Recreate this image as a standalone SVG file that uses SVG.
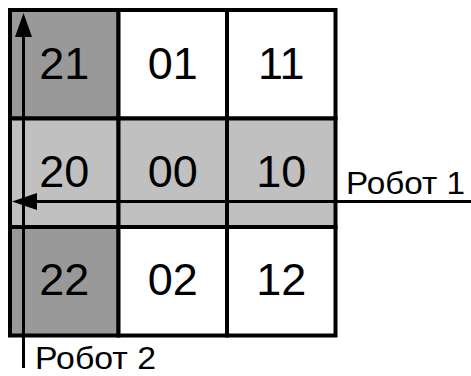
<svg xmlns="http://www.w3.org/2000/svg" width="471" height="376" viewBox="0 0 471 376">
<style>
.cell{stroke:#000;stroke-width:4}
.w{fill:#fff}
.d{fill:#999999}
.l{fill:#c0c0c0}
.num{font-family:"Liberation Sans",Arial,sans-serif;font-size:45px;text-anchor:middle;fill:#000}
.lbl{font-family:"Liberation Sans",Arial,sans-serif;font-size:31px;fill:#000}
.ln{stroke:#000;stroke-width:3;fill:none}
</style>
<rect width="471" height="376" fill="#fff"/>
<g id="cell21"><rect class="cell d" x="10" y="10" width="108.5" height="108.5"/><text class="num" x="64.25" y="79">21</text></g>
<g id="cell01"><rect class="cell w" x="118.5" y="10" width="108.5" height="108.5"/><text class="num" x="172.75" y="79">01</text></g>
<g id="cell11"><rect class="cell w" x="227" y="10" width="108.5" height="108.5"/><text class="num" x="281.25" y="79">11</text></g>
<g id="cell20"><rect class="cell l" x="10" y="118.5" width="108.5" height="108.5"/><text class="num" x="64.25" y="187">20</text></g>
<g id="cell00"><rect class="cell l" x="118.5" y="118.5" width="108.5" height="108.5"/><text class="num" x="172.75" y="187">00</text></g>
<g id="cell10"><rect class="cell l" x="227" y="118.5" width="108.5" height="108.5"/><text class="num" x="281.25" y="187">10</text></g>
<g id="cell22"><rect class="cell d" x="10" y="227" width="108.5" height="108.5"/><text class="num" x="64.25" y="295">22</text></g>
<g id="cell02"><rect class="cell w" x="118.5" y="227" width="108.5" height="108.5"/><text class="num" x="172.75" y="295">02</text></g>
<g id="cell12"><rect class="cell w" x="227" y="227" width="108.5" height="108.5"/><text class="num" x="281.25" y="295">12</text></g>
<g id="connectors">
<g id="robot1">
<line class="ln" x1="471" y1="201.5" x2="30" y2="201.5"/>
<polygon points="12,201.5 37,193 37,210" fill="#000"/>
<text class="lbl" x="346" y="194" textLength="119" lengthAdjust="spacingAndGlyphs">Робот 1</text>
</g>
<g id="robot2">
<line class="ln" x1="23.5" y1="368" x2="23.5" y2="30"/>
<polygon points="23.5,13 15,37 32,37" fill="#000"/>
<text class="lbl" x="35" y="369" textLength="121" lengthAdjust="spacingAndGlyphs">Робот 2</text>
</g>
</g>
</svg>
